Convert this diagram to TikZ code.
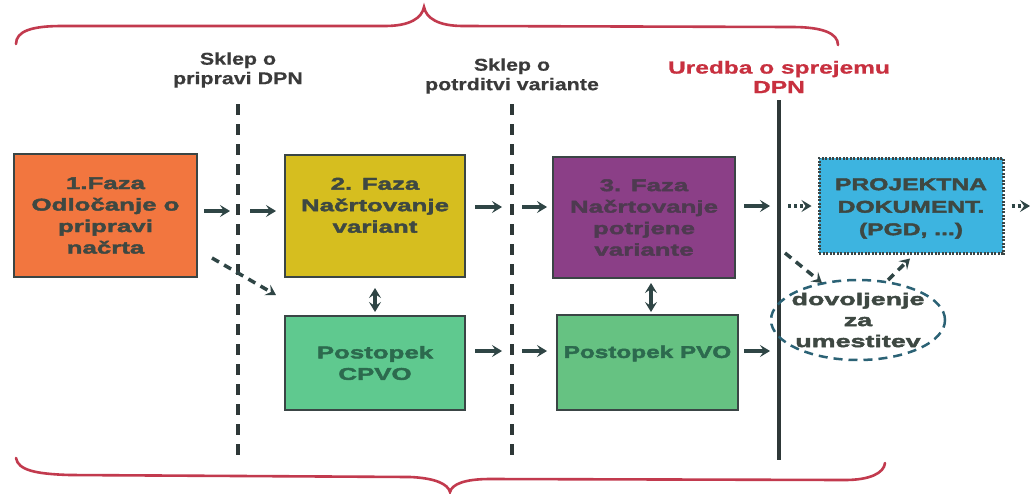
\documentclass[tikz,border=0pt]{standalone}
\usepackage{fontspec}
\setmainfont{Liberation Sans}
\newfontfamily\boxfont[FakeStretch=1.52,FakeBold=2.5]{Liberation Sans Bold}
\newfontfamily\pvofont[FakeStretch=1.43,FakeBold=2.5]{Liberation Sans Bold}
\newfontfamily\projfont[FakeStretch=1.45,FakeBold=2.5]{Liberation Sans Bold}
\newfontfamily\ellfont[FakeStretch=1.58,FakeBold=2.5]{Liberation Sans Bold}
\newfontfamily\lblfont[FakeStretch=1.26,BoldFeatures={FakeBold=0.6}]{Liberation Sans}
\newfontfamily\redfont[FakeStretch=1.4,BoldFeatures={FakeBold=0.8}]{Liberation Sans}
\usetikzlibrary{arrows.meta,shapes.geometric}
\definecolor{bracec}{HTML}{C23A4E}
\definecolor{linec}{HTML}{2E3838}
\definecolor{lbltxt}{HTML}{3A3A3A}
\definecolor{arrc}{HTML}{2F4545}
\definecolor{bordc}{HTML}{3A4545}
\definecolor{orangef}{HTML}{F2763F}
\definecolor{yellowf}{HTML}{D6BE1F}
\definecolor{purplef}{HTML}{8B3F87}
\definecolor{greenf}{HTML}{5FC98F}
\definecolor{green2f}{HTML}{66C282}
\definecolor{cyanf}{HTML}{3DB4E0}
\definecolor{txtdark}{HTML}{3E4842}
\definecolor{txtgreen}{HTML}{2C6A4E}
\definecolor{txtpurple}{HTML}{4E3A50}
\definecolor{ellc}{HTML}{2B6275}
\definecolor{redtxt}{HTML}{C8303F}
\tikzset{
  phase/.style={draw=bordc, line width=2pt, inner sep=0pt, align=center,
    font=\boxfont\fontsize{17}{21.5}\selectfont, text=txtdark},
  lbl/.style={align=center, font=\lblfont\bfseries\fontsize{17}{19.5}\selectfont, text=lbltxt},
  arr/.style={draw=arrc, line width=3.5pt, -{Stealth[length=10pt,width=12pt,inset=4pt]}},
  dasharr/.style={arr, dash pattern=on 8pt off 6pt},
  dotarr/.style={arr, dash pattern=on 3pt off 3pt},
  dblarr/.style={draw=arrc, line width=3.5pt, {Stealth[length=10pt,width=12pt,inset=4pt]}-{Stealth[length=10pt,width=12pt,inset=4pt]}},
  sepdash/.style={draw=linec, line width=4pt, dash pattern=on 11pt off 9pt},
  sepsolid/.style={draw=linec, line width=4pt},
  bracestyle/.style={draw=bracec, line width=2.6pt, line cap=round}
}
\begin{document}
\begin{tikzpicture}[x=1pt,y=-1pt]
\useasboundingbox[fill=white] (0,0) rectangle (1030,493);

% braces
\draw[bracestyle] (16,44) .. controls (16,31) and (32,26) .. (62,26) -- (385,26)
  .. controls (410,26) and (422,18) .. (424,7)
  .. controls (426,18) and (438,26) .. (463,26) -- (792,27)
  .. controls (822,27) and (838,33) .. (838,45);
\draw[bracestyle] (16,458) .. controls (18,470) and (35,474) .. (70,475) -- (410,477)
  .. controls (435,478) and (448,484) .. (450,492)
  .. controls (452,484) and (465,479) .. (490,479) -- (845,480)
  .. controls (870,480) and (884,473) .. (885,463);

% separators
\coordinate (s1t) at (238,104); \coordinate (s1b) at (238,458);
\coordinate (s2t) at (512,104); \coordinate (s2b) at (512,458);
\coordinate (s3t) at (779,100); \coordinate (s3b) at (779,460);
\draw[sepdash] (s1t) -- (s1b);
\draw[sepdash] (s2t) -- (s2b);
\draw[sepsolid] (s3t) -- (s3b);

% labels
\node[lbl] (l1) at (238,70) {Sklep o\\pripravi DPN};
\node[lbl] (l2) at (512,76) {Sklep o\\potrditvi variante};
\node[lbl, text=redtxt, font=\redfont\bfseries\fontsize{17.5}{19.5}\selectfont] (l3) at (779,77) {Uredba o sprejemu\\DPN};

% boxes
\node[phase, fill=orangef, minimum width=183pt, minimum height=123pt] (b1) at (105.5,215.5)
  {1.Faza\\Odločanje o\\pripravi\\načrta};
\node[phase, fill=yellowf, minimum width=180pt, minimum height=122pt] (b2) at (375,216)
  {2. Faza\\Načrtovanje\\variant\\[0pt]};
\node[phase, fill=greenf, text=txtgreen, minimum width=180pt, minimum height=94pt] (cpvo) at (375,363)
  {Postopek\\CPVO};
\node[phase, fill=purplef, text=txtpurple, minimum width=182pt, minimum height=121pt] (b3) at (644,217.5)
  {3. Faza\\Načrtovanje\\potrjene\\variante};
\node[phase, fill=green2f, text=txtgreen, font=\pvofont\fontsize{17}{21.5}\selectfont,
  minimum width=181pt, minimum height=95pt] (pvo) at (647.5,362.5)
  {Postopek PVO\\[0pt]};
\node[phase, fill=cyanf, draw=bordc, line width=3pt, dash pattern=on 2pt off 1.5pt,
  minimum width=184pt, minimum height=95pt,
  label={[font=\projfont\fontsize{17}{22.5}\selectfont, text=txtdark, align=center, yshift=-3pt]center:{PROJEKTNA\\DOKUMENT.\\(PGD, ...)}}] (proj) at (911,205.5) {};
\node[ellipse, draw=ellc, line width=2.5pt, dash pattern=on 9pt off 6pt, inner sep=0pt,
  minimum width=174pt, minimum height=80pt,
  label={[font=\ellfont\fontsize{17}{21}\selectfont, text=txtdark, align=center]center:{dovoljenje\\za\\umestitev}}] (ell) at (858,320) {};

% arrow coordinates
\coordinate (r1a) at (230,211); \coordinate (r1b) at (250,211);
\coordinate (r2a) at (502,207); \coordinate (r2b) at (522,207);
\coordinate (r3a) at (502,351); \coordinate (r3b) at (522,351);
\coordinate (r4a) at (770,206); \coordinate (r5a) at (770,351);
\coordinate (r6a) at (788,206); \coordinate (r7b) at (1030,206);
\coordinate (d2s) at (785,253);

% arrows
\draw[arr] ([xshift=6pt]b1.east |- r1a) -- (r1a);
\draw[arr] (r1b) -- ([xshift=-8pt]b2.west |- r1b);
\draw[dasharr] ([shift={(14,-20)}]b1.south east) -- ([shift={(-8,-68)}]cpvo.west);
\draw[arr] ([xshift=9pt]b2.east |- r2a) -- (r2a);
\draw[arr] (r2b) -- ([xshift=-5pt]b3.west |- r2b);
\draw[arr] ([xshift=9pt]cpvo.east |- r3a) -- (r3a);
\draw[arr] (r3b) -- ([xshift=-9pt]pvo.west |- r3b);
\draw[dblarr, shorten <=10pt, shorten >=3pt] (b2.south) -- (cpvo.north);
\draw[dblarr, shorten <=4pt, shorten >=2pt] ([xshift=7pt]b3.south) -- ([xshift=3.5pt]pvo.north);
\draw[arr] ([xshift=8pt]b3.east |- r4a) -- (r4a);
\draw[arr] ([xshift=5pt]pvo.east |- r5a) -- (r5a);
\draw[dotarr] (r6a) -- ([xshift=-6pt]proj.west |- r6a);
\draw[dotarr] ([xshift=7pt]proj.east |- r7b) -- (r7b);
\draw[dasharr] (d2s) -- ([shift={(-36,-37)}]ell.center);
\draw[dasharr] ([shift={(30,-40)}]ell.center) -- ([shift={(-1,4)}]proj.south);
\end{tikzpicture}
\end{document}
